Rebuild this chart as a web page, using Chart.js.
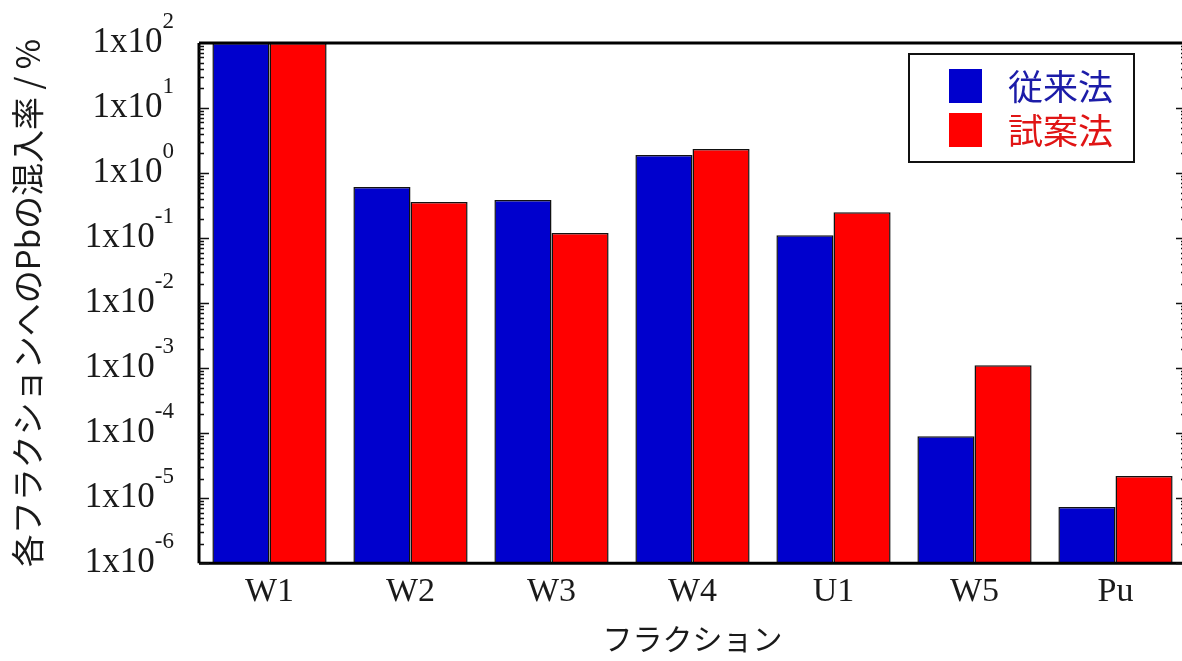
<!DOCTYPE html>
<html><head><meta charset="utf-8">
<script src="https://cdn.jsdelivr.net/npm/chart.js@4/dist/chart.umd.min.js"></script>
<style>
html,body{margin:0;padding:0;background:#fff;overflow:hidden;width:1182px;height:661px}
#wrap{position:relative;width:1188px;height:661px}
canvas{display:block}
</style>
</head><body><div id="wrap"><canvas id="c" width="1188" height="661"></canvas></div>
<script>
const categories = ['W1','W2','W3','W4','U1','W5','Pu'];
const conventional = [100, 0.61, 0.385, 1.89, 0.111, 9.0e-5, 7.3e-6];
const proposed = [100, 0.36, 0.12, 2.34, 0.25, 1.11e-3, 2.2e-5];
const seriesNames = ['従来法','試案法'];
const yExponents = [2,1,0,-1,-2,-3,-4,-5,-6];
const yTitle = '各フラクションへのPbの混入率 / %';
const xTitle = 'フラクション';

const BLUE = '#0000CD', RED = '#FF0000';
const SERIF = '"Liberation Serif","Times New Roman",serif';
const CJK = '"Noto Sans CJK JP","Noto Sans",sans-serif';

const framePlugin = {
  id: 'frame',
  afterDraw(chart) {
    const ctx = chart.ctx, a = chart.chartArea, y = chart.scales.y;
    ctx.save();
    // frame
    ctx.strokeStyle = '#000';
    ctx.lineWidth = 3;
    ctx.beginPath();
    ctx.moveTo(a.left, a.top); ctx.lineTo(a.right, a.top);
    ctx.moveTo(a.left, a.bottom); ctx.lineTo(a.right, a.bottom);
    ctx.moveTo(a.left, a.top); ctx.lineTo(a.left, a.bottom);
    ctx.moveTo(a.right, a.top); ctx.lineTo(a.right, a.bottom);
    ctx.stroke();
    // inward ticks (major + minor)
    ctx.lineWidth = 1.5;
    ctx.strokeStyle = '#111';
    ctx.beginPath();
    for (let e = -6; e <= 1; e++) {
      for (let m = 1; m <= 9; m++) {
        const v = m * Math.pow(10, e);
        const py = Math.round(y.getPixelForValue(v)) + 0.5;
        const len = m === 1 ? 10 : 5;
        ctx.moveTo(a.left, py); ctx.lineTo(a.left + len, py);
        ctx.moveTo(a.right, py); ctx.lineTo(a.right - len, py);
      }
    }
    ctx.stroke();
    // y tick labels with superscript exponent
    ctx.fillStyle = '#1a1a1a';
    ctx.textBaseline = 'middle';
    const rightX = a.left - 25;
    yExponents.forEach(e => {
      const py = y.getPixelForValue(Math.pow(10, e));
      ctx.font = '23px ' + SERIF;
      const es = String(e);
      const ew = ctx.measureText(es).width;
      ctx.textAlign = 'left';
      ctx.fillText(es, rightX - ew, py - 21);
      ctx.font = '35px ' + SERIF;
      ctx.textAlign = 'right';
      ctx.fillText('1x10', rightX - ew, py);
    });
    // y title
    ctx.save();
    ctx.translate(27, 303);
    ctx.rotate(-Math.PI / 2);
    ctx.font = '33px ' + CJK;
    ctx.textAlign = 'center';
    ctx.textBaseline = 'middle';
    ctx.fillStyle = '#1a1a1a';
    ctx.fillText(yTitle, 0, 0);
    ctx.restore();
    // legend
    ctx.lineWidth = 2;
    ctx.strokeStyle = '#111';
    ctx.fillStyle = '#fff';
    ctx.fillRect(909, 54, 225, 108);
    ctx.strokeRect(909, 54, 225, 108);
    const ds = chart.data.datasets;
    const txtCol = ['#1c1ca8', '#e01515'];
    ds.forEach((d, i) => {
      const cy = 86 + i * 44;
      ctx.fillStyle = d.backgroundColor;
      ctx.fillRect(949, cy - 17, 33, 34);
      ctx.fillStyle = txtCol[i];
      ctx.font = '35px ' + CJK;
      ctx.textAlign = 'left';
      ctx.textBaseline = 'middle';
      ctx.fillText(d.label, 1008, cy + 1);
    });
    ctx.restore();
  }
};

new Chart(document.getElementById('c'), {
  type: 'bar',
  data: {
    labels: categories,
    datasets: [
      { label: seriesNames[0], data: conventional, backgroundColor: BLUE, borderColor: '#111', borderWidth: 1.5 },
      { label: seriesNames[1], data: proposed, backgroundColor: RED, borderColor: '#111', borderWidth: 1.5 }
    ]
  },
  options: {
    responsive: false,
    animation: false,
    devicePixelRatio: 1,
    categoryPercentage: 0.81,
    barPercentage: 1.0,
    layout: { padding: { left: 199, top: 43, right: 2, bottom: 2 } },
    plugins: { legend: { display: false }, tooltip: { enabled: false } },
    scales: {
      x: {
        type: 'category',
        offset: true,
        grid: { display: false, drawTicks: false },
        border: { display: false },
        ticks: { font: { family: SERIF, size: 34 }, color: '#1a1a1a', padding: 8 },
        title: { display: true, text: xTitle, font: { family: CJK, size: 30 }, color: '#1a1a1a', padding: { top: 1, bottom: 2 } }
      },
      y: {
        type: 'logarithmic',
        display: false,
        min: 1e-6,
        max: 100
      }
    }
  },
  plugins: [framePlugin]
});
</script>
</body></html>
